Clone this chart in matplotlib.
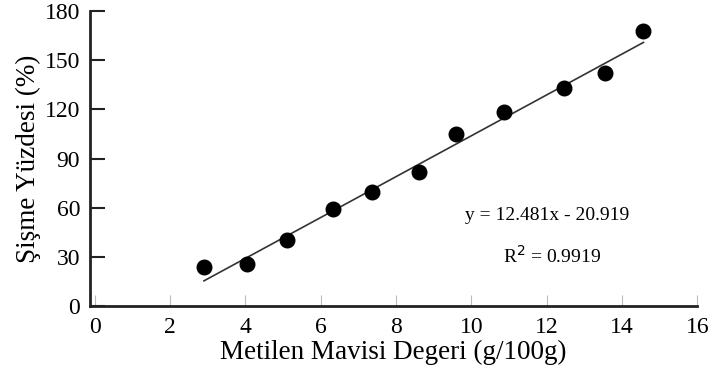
import matplotlib
matplotlib.use('Agg')
import matplotlib.pyplot as plt
import numpy as np

plt.rcParams['font.family'] = ['Liberation Serif', 'DejaVu Serif']

# veriler
mb_values = [2.9, 4.04, 5.1, 6.33, 7.37, 8.62, 9.6, 10.88, 12.47, 13.54, 14.57]
swell_values = [23.8, 25.6, 40.2, 59.0, 69.5, 81.7, 104.9, 118.3, 133.0, 142.0, 168.0]
slope = 12.481
intercept = -20.919
r2 = 0.9919
x_ticks = [0, 2, 4, 6, 8, 10, 12, 14, 16]
y_ticks = [0, 30, 60, 90, 120, 150, 180]

fig = plt.figure(figsize=(7.13, 3.73), dpi=100)
ax = fig.add_axes([0.126, 0.18, 0.852, 0.79])

ax.scatter(mb_values, swell_values, s=110, color='black', zorder=3)
xf = np.array([min(mb_values), max(mb_values)])
ax.plot(xf, slope * xf + intercept, color='#333333', linewidth=1.2, zorder=2)

ax.set_xlim(-0.13, 16)
ax.set_ylim(0, 180)
ax.set_xticks(x_ticks)
ax.set_yticks(y_ticks)

for s in ['top', 'right']:
    ax.spines[s].set_visible(False)
for s in ['left', 'bottom']:
    ax.spines[s].set_linewidth(2)
    ax.spines[s].set_color('#222222')

ax.tick_params(axis='y', direction='in', length=11, width=1.5, color='#222222',
               labelsize=17, pad=7)
ax.tick_params(axis='x', direction='in', length=8, width=0.8, color='#bbbbbb',
               labelsize=17, pad=8)

ax.set_xlabel('Metilen Mavisi Degeri (g/100g)', fontsize=19.5, labelpad=1)
ax.set_ylabel('Şişme Yüzdesi (%)', fontsize=19.5, labelpad=3)

ax.text(12.0, 55, f'y = {slope}x - {abs(intercept)}', ha='center', va='center',
        fontsize=14)
ax.text(12.15, 30.5, f'R$^2$ = {r2}', ha='center', va='center', fontsize=14)

fig.savefig('out.png', dpi=100)
